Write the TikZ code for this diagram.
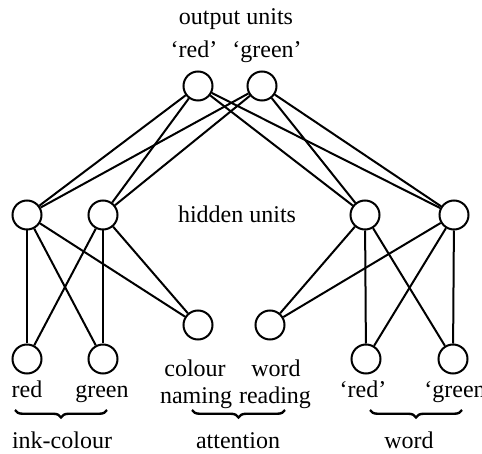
\documentclass[tikz,border=0pt]{standalone}
\usepackage{fontspec}
\setmainfont{Liberation Serif}
\usetikzlibrary{decorations.pathreplacing}

\newlength{\du}
\setlength{\du}{0.5\unitlength}

\tikzset{
  unit/.style={circle,draw,inner sep=0pt,minimum size=29\du},
  lbl/.style={anchor=base,inner sep=0pt,font=\fontsize{12}{14}\selectfont},
  grp/.style={decorate,decoration={brace,amplitude=7.5\du},line width=2.4\du}
}

\begin{document}
\begin{tikzpicture}
\pgftransformxscale{1.000000}
\pgftransformyscale{-1.000000}
\definecolor{dialinecolor}{rgb}{0.000000, 0.000000, 0.000000}
\pgfsetstrokecolor{dialinecolor}
\pgfsetlinewidth{2.000000\du}
\useasboundingbox (0\du,0\du) rectangle (482\du,454\du);
% output layer
\node[lbl] (outtitle) at (236\du,25\du){output units};
\node[lbl] (outredlbl) at (194\du,58\du){`red'};
\node[lbl] (outgreenlbl) at (267\du,58\du){`green'};
\node[unit] (outred) at (198\du,86\du){};
\node[unit] (outgreen) at (262\du,86\du){};
% hidden layer
\node[unit] (hidA) at (27\du,215\du){};
\node[unit] (hidB) at (103\du,215\du){};
\node[unit] (hidC) at (365\du,215\du){};
\node[unit] (hidD) at (454\du,215\du){};
\node[lbl] (hidtitle) at (237\du,223\du){hidden units};
% attention units
\node[unit] (attcol) at (198\du,325\du){};
\node[unit] (attword) at (270\du,325\du){};
% input units
\node[unit] (inkred) at (27\du,359\du){};
\node[unit] (inkgreen) at (103\du,359\du){};
\node[unit] (wordred) at (366\du,359\du){};
\node[unit] (wordgreen) at (453\du,359\du){};
% setfont left to latex
\node[lbl] (inkredlbl) at (27\du,397\du){red};
\node[lbl] (inkgreenlbl) at (102\du,397\du){green};
\node[lbl] (attcollbl) at (195\du,376\du){colour};
\node[lbl] (attcollbl2) at (196\du,403\du){naming};
\node[lbl] (attwordlbl) at (276\du,376\du){word};
\node[lbl] (attwordlbl2) at (275\du,403\du){reading};
\node[lbl] (wordredlbl) at (363\du,397\du){`red'};
\node[lbl] (wordgreenlbl) at (459\du,397\du){`green'};
% output to hidden
\foreach \o in {outred,outgreen}
  \foreach \h in {hidA,hidB,hidC,hidD}
    \draw (\o) -- (\h);
% hidden to inputs and attention
\draw (hidA) -- (inkred);
\draw (hidA) -- (inkgreen);
\draw (hidA) -- (attcol);
\draw (hidB) -- (inkred);
\draw (hidB) -- (inkgreen);
\draw (hidB) -- (attcol);
\draw (hidC) -- (wordred);
\draw (hidC) -- (wordgreen);
\draw (hidC) -- (attword);
\draw (hidD) -- (wordred);
\draw (hidD) -- (wordgreen);
\draw (hidD) -- (attword);
% groups
\draw[grp] (107\du,410\du) -- (15\du,410\du);
\draw[grp] (285\du,410\du) -- (192\du,410\du);
\draw[grp] (462\du,410\du) -- (370\du,410\du);
\node[lbl] (inklbl) at (62\du,448\du){ink-colour};
\node[lbl] (attlbl) at (238\du,448\du){attention};
\node[lbl] (wordlbl) at (409\du,448\du){word};
\end{tikzpicture}
\end{document}
